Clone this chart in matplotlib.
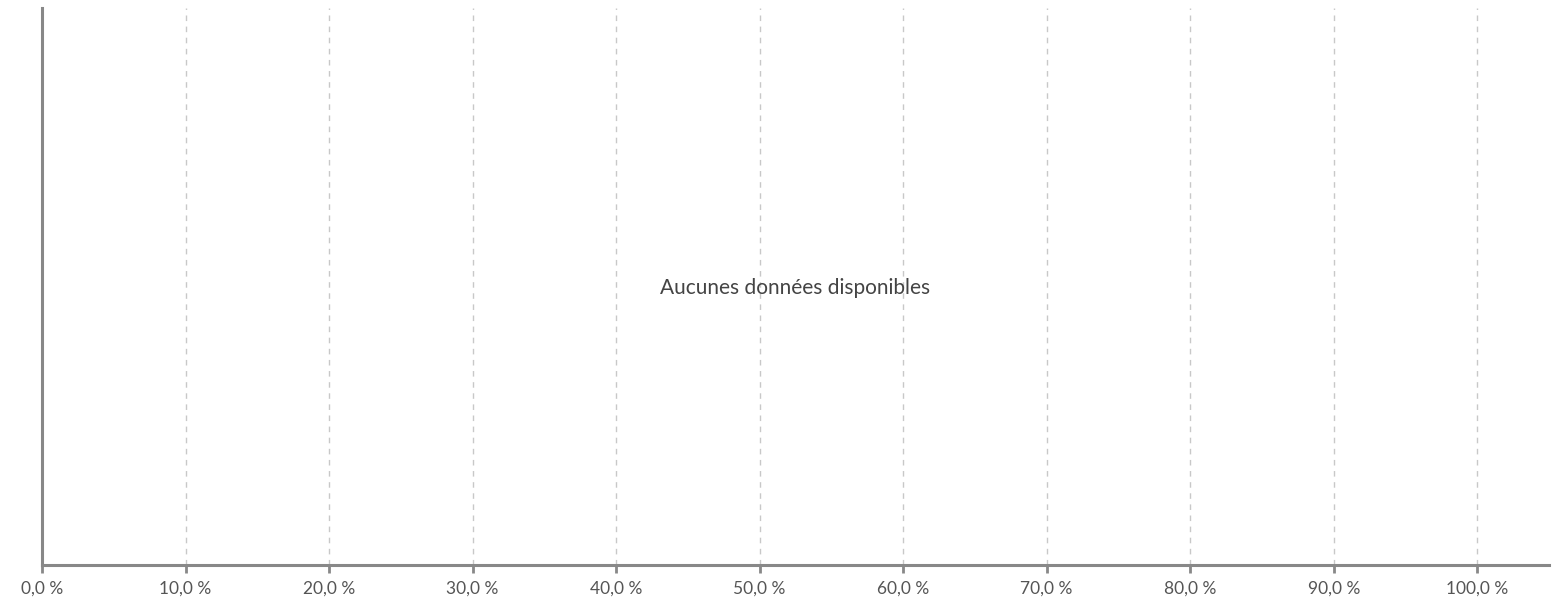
import matplotlib.pyplot as plt
import numpy as np

# axe des x en pourcentage, pas de donnees
tick_values = [0, 10, 20, 30, 40, 50, 60, 70, 80, 90, 100]
tick_labels = ["0,0 %", "10,0 %", "20,0 %", "30,0 %", "40,0 %", "50,0 %",
               "60,0 %", "70,0 %", "80,0 %", "90,0 %", "100,0 %"]
x_max = 105
message = "Aucunes données disponibles"

plt.rcParams['font.family'] = ['Lato', 'DejaVu Sans']

fig = plt.figure(figsize=(15.61, 6.01), dpi=100)
ax = fig.add_axes([42 / 1561, 36 / 601, (1549 - 42) / 1561, (565 - 8) / 601])

ax.set_xlim(0, x_max)
ax.set_ylim(0, 1)
ax.set_xticks(tick_values)
ax.set_xticklabels(tick_labels, fontsize=12.5, color='#555555')
ax.set_yticks([])

for v in tick_values[1:]:
    ax.axvline(v, color='#c8c8c8', linestyle=(0, (4, 4)), linewidth=1, zorder=0)

for side in ['top', 'right']:
    ax.spines[side].set_visible(False)
ax.spines['left'].set_color('#888888')
ax.spines['left'].set_linewidth(2.2)
ax.spines['bottom'].set_color('#888888')
ax.spines['bottom'].set_linewidth(2.2)
ax.tick_params(axis='x', length=6, width=2, color='#888888', pad=5)

ax.text(x_max * 0.5, 0.498, message, ha='center', va='center',
        fontsize=15, color='#444444')

fig.savefig('out.png', dpi=100)
